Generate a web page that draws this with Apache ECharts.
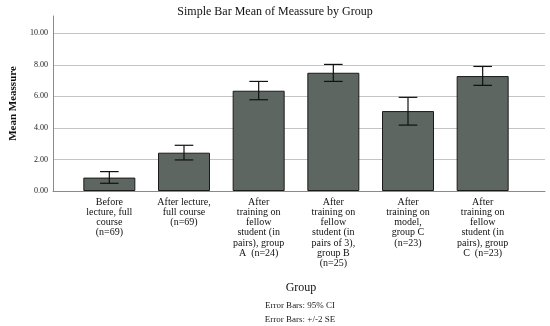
<!DOCTYPE html>
<html><head><meta charset="utf-8">
<script src="https://cdn.jsdelivr.net/npm/echarts@6/dist/echarts.min.js"></script>
<style>html,body{margin:0;padding:0;background:#fff}#c{width:550px;height:326px}</style>
</head><body><div id="c"></div>
<script>
const categories = [
  "Before\nlecture, full\ncourse\n(n=69)",
  "After lecture,\nfull course\n(n=69)",
  "After\ntraining on\nfellow\nstudent (in\npairs), group\nA  (n=24)",
  "After\ntraining on\nfellow\nstudent (in\npairs of 3),\ngroup B\n(n=25)",
  "After\ntraining on\nmodel,\ngroup C\n(n=23)",
  "After\ntraining on\nfellow\nstudent (in\npairs), group\nC  (n=23)"
];
const means = [0.85, 2.43, 6.36, 7.50, 5.07, 7.29];
const ciLow = [0.49, 1.97, 5.79, 6.95, 4.18, 6.70];
const ciHigh = [1.23, 2.90, 6.95, 8.03, 5.94, 7.90];
const yTicks = [0, 2, 4, 6, 8, 10];

const FONT = "Liberation Serif";
const chart = echarts.init(document.getElementById('c'));
const yMax = 11.1;
chart.setOption({
  animation: false,
  backgroundColor: '#fff',
  title: [
    {text: 'Simple Bar Mean of Meassure by Group', left: 'center', top: 1,
     textStyle: {fontFamily: FONT, fontSize: 12, fontWeight: 'normal', color: '#111'}},
    {text: 'Group', left: 296, top: 277, textAlign: 'center',
     textStyle: {fontFamily: FONT, fontSize: 12, fontWeight: 'normal', color: '#111'}},
    {text: 'Error Bars: 95% CI', left: 295, top: 296, textAlign: 'center',
     textStyle: {fontFamily: FONT, fontSize: 9, fontWeight: 'normal', color: '#222'}},
    {text: 'Error Bars: +/-2 SE', left: 295, top: 310, textAlign: 'center',
     textStyle: {fontFamily: FONT, fontSize: 9, fontWeight: 'normal', color: '#222'}}
  ],
  grid: [
    {left: 48, right: 5, top: 16, bottom: 135},
    {left: 72, right: 30, top: 16, bottom: 135}
  ],
  xAxis: [
    {gridIndex: 0, type: 'category', data: categories, boundaryGap: true,
     axisLine: {show: true, lineStyle: {color: '#8a8a8a', width: 1}},
     axisTick: {show: false}, axisLabel: {show: false}, splitLine: {show: false}},
    {gridIndex: 1, type: 'category', data: categories, boundaryGap: true,
     axisLine: {show: false}, axisTick: {show: false},
     axisLabel: {interval: 0, fontFamily: FONT, fontSize: 10, color: '#111', lineHeight: 10.2, margin: 6}}
  ],
  yAxis: [
    {gridIndex: 0, type: 'value', min: 0, max: yMax, interval: 2,
     name: 'Mean Meassure', nameLocation: 'middle', nameGap: 34, nameRotate: 90,
     nameTextStyle: {fontFamily: FONT, fontSize: 11, fontWeight: 'bold', color: '#111'},
     axisLine: {show: true, lineStyle: {color: '#8a8a8a', width: 1}},
     axisTick: {show: false},
     axisLabel: {showMaxLabel: false, fontFamily: FONT, fontSize: 8, color: '#222', margin: 5,
       formatter: v => yTicks.indexOf(v) >= 0 ? v.toFixed(2) : ''},
     splitLine: {show: true, lineStyle: {color: ['#c4c4c4','#c4c4c4','#c4c4c4','#c4c4c4','#c4c4c4','#c4c4c4','rgba(0,0,0,0)'], width: 1}}},
    {gridIndex: 1, type: 'value', min: 0, max: yMax, show: false, splitLine: {show: false}}
  ],
  series: [
    {type: 'bar', xAxisIndex: 1, yAxisIndex: 1, data: means, barWidth: 52,
     itemStyle: {color: '#5d6660', borderColor: '#1a1a1a', borderWidth: 1}},
    {type: 'custom', xAxisIndex: 1, yAxisIndex: 1, z: 5,
     data: means.map((m, i) => [i, ciLow[i], ciHigh[i]]),
     renderItem: function (params, api) {
       const i = api.value(0);
       const lo = api.coord([i, api.value(1)]);
       const hi = api.coord([i, api.value(2)]);
       const hw = 9.3;
       const st = {stroke: '#111', lineWidth: 1.2};
       return {type: 'group', children: [
         {type: 'line', shape: {x1: lo[0], y1: lo[1], x2: hi[0], y2: hi[1]}, style: st},
         {type: 'line', shape: {x1: lo[0]-hw, y1: lo[1], x2: lo[0]+hw, y2: lo[1]}, style: st},
         {type: 'line', shape: {x1: hi[0]-hw, y1: hi[1], x2: hi[0]+hw, y2: hi[1]}, style: st}
       ]};
     }}
  ]
});
</script></body></html>
